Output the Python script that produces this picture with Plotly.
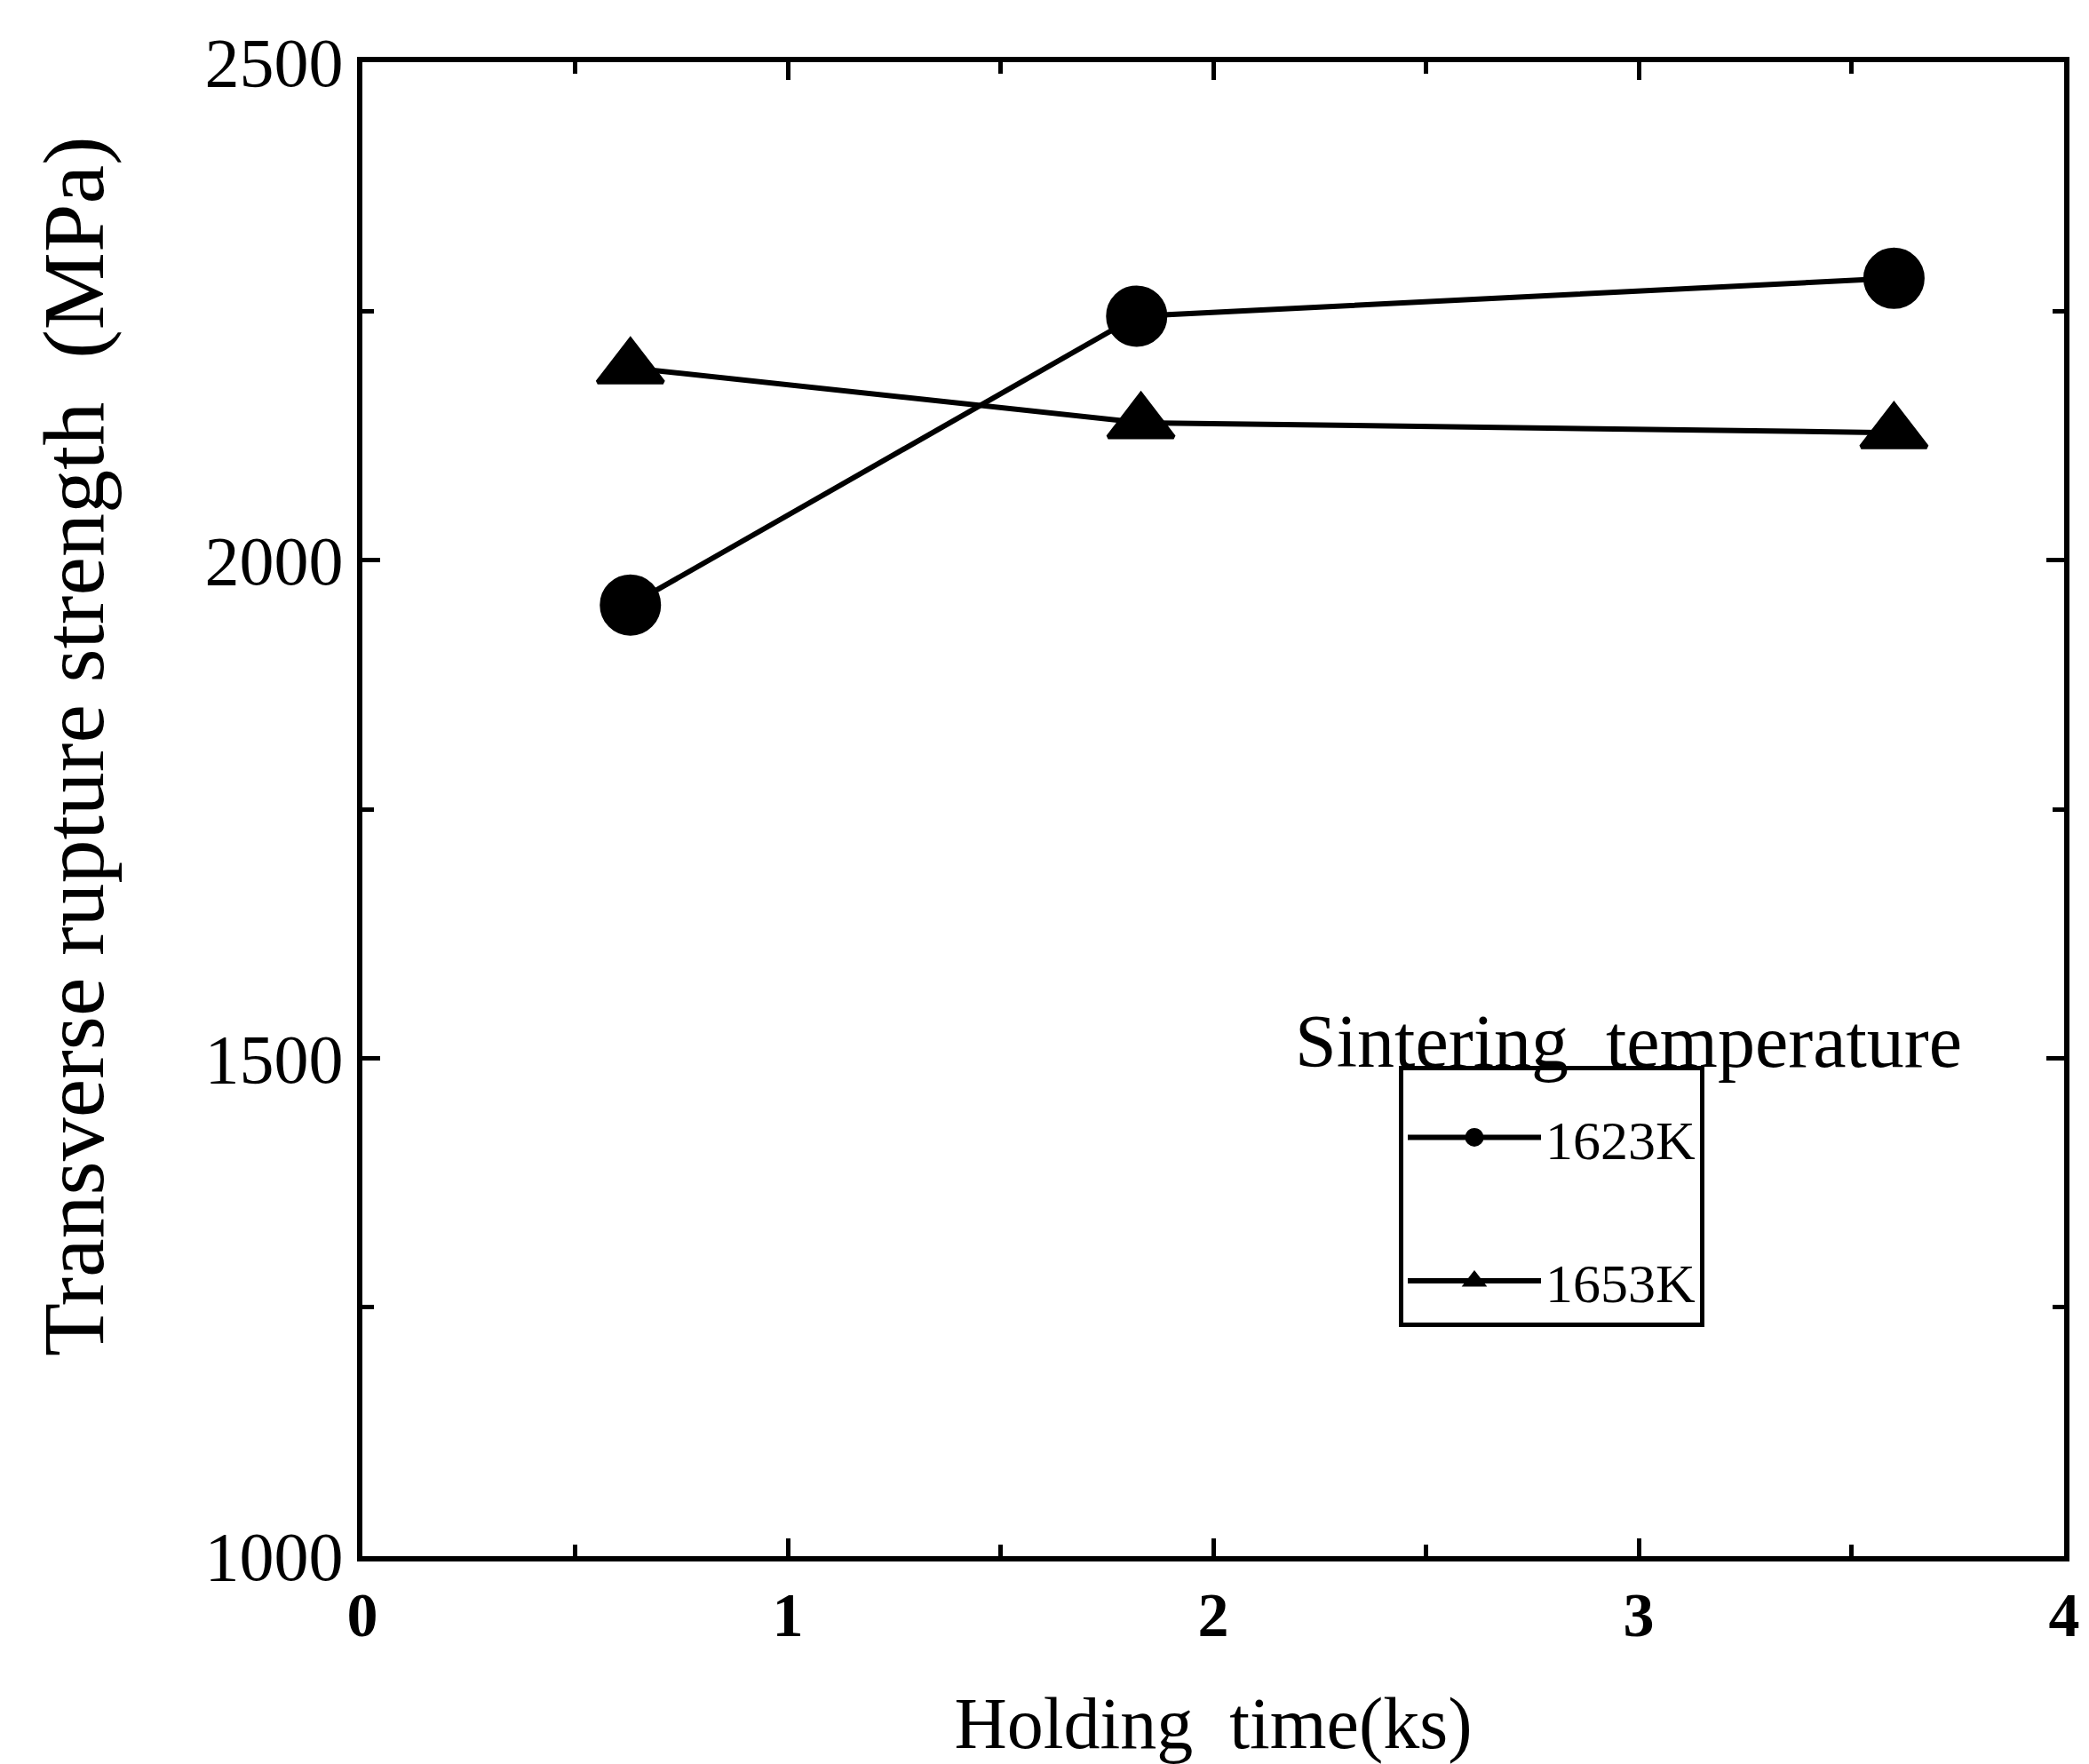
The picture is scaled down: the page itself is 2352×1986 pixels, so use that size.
import plotly.graph_objects as go

# Data
time_1623 = [0.63, 1.82, 3.6]
strength_1623 = [1955, 2245, 2283]
time_1653 = [0.63, 1.83, 3.6]
strength_1653 = [2193, 2138, 2128]
series_names = ["1623K", "1653K"]

x_ticks = [0, 1, 2, 3, 4]
y_ticks = [1000, 1500, 2000, 2500]

FONT = "Liberation Serif"
W, H = 2352, 1986
ML, MR, MT, MB = 408, 28, 70, 234
PW = W - ML - MR
PH = H - MT - MB

fig = go.Figure()
fig.add_trace(go.Scatter(
    x=time_1623, y=strength_1623, mode="lines+markers", name=series_names[0],
    legendgroup="a",
    line=dict(color="black", width=6),
    marker=dict(symbol="circle", size=64, color="black", line=dict(color="black", width=5)),
))
fig.add_trace(go.Scatter(
    x=time_1653, y=strength_1653, mode="lines+markers", name=series_names[1],
    legendgroup="b",
    line=dict(color="black", width=6),
    marker=dict(symbol="triangle-up", size=64, color="black", line=dict(color="black", width=5)),
))

axis_common = dict(
    showline=True, linecolor="black", linewidth=6, mirror="ticks",
    ticks="inside", tickcolor="black", tickwidth=5, ticklen=20,
    showgrid=False, zeroline=False,
)

fig.update_xaxes(
    range=[0, 4], tickvals=x_ticks, ticktext=[str(v) for v in x_ticks],
    tickfont=dict(family=FONT, size=70, color="black", weight="bold"),
    minor=dict(dtick=0.5, ticks="inside", ticklen=13, tickwidth=5, tickcolor="black"),
    title=dict(text="Holding  time(ks)", font=dict(family=FONT, size=82, color="black"), standoff=80),
    **axis_common,
)
fig.update_yaxes(
    range=[1000, 2500], tickvals=y_ticks, ticktext=[str(v) for v in y_ticks],
    tickfont=dict(family=FONT, size=78, color="black"),
    minor=dict(dtick=250, ticks="inside", ticklen=13, tickwidth=5, tickcolor="black"),
    **axis_common,
)

# y-axis title (placed slightly above the plot centre, as in the reference)
fig.add_annotation(
    xref="paper", yref="paper", x=(83 - ML) / PW, y=(H - MB - 840) / PH,
    xanchor="center", yanchor="middle", textangle=-90,
    text="Transverse rupture strength  (MPa)", showarrow=False,
    font=dict(family=FONT, size=98, color="black"),
)

# legend heading
fig.add_annotation(
    xref="paper", yref="paper", x=(1833 - ML) / PW, y=(H - MB - 1172) / PH,
    xanchor="center", yanchor="middle",
    text="Sintering  temperature", showarrow=False,
    font=dict(family=FONT, size=84, color="black"),
)

fig.update_layout(
    width=W, height=H,
    margin=dict(l=ML, r=MR, t=MT, b=MB, autoexpand=False),
    paper_bgcolor="white", plot_bgcolor="white",
    showlegend=True,
    legend=dict(
        x=(1575 - ML) / PW, y=(H - MB - 1200) / PH, xanchor="left", yanchor="top",
        bgcolor="white", bordercolor="black", borderwidth=5,
        font=dict(family=FONT, size=62, color="black"),
        itemwidth=150, traceorder="grouped", tracegroupgap=78,
        itemsizing="trace",
        title=dict(text=" ", font=dict(family=FONT, size=22)),
    ),
)

fig.write_html("out.html")
